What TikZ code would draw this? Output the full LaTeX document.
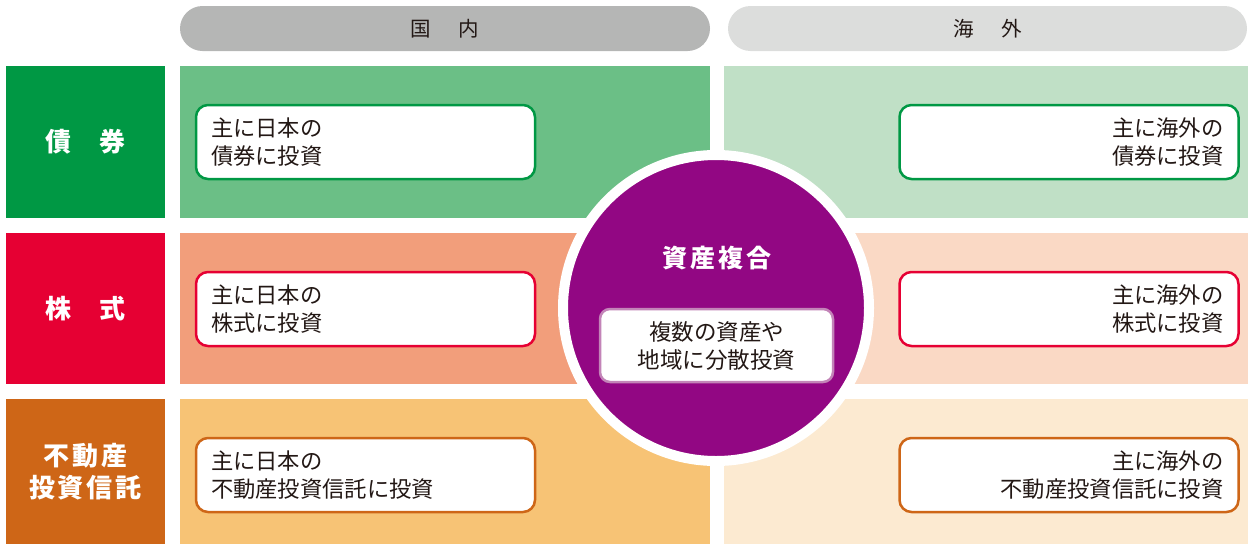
\documentclass[tikz,border=0pt]{standalone}
\usepackage{fontspec}
\newfontfamily\jp{Noto Sans CJK JP}
\definecolor{gA}{HTML}{009844}\definecolor{gB}{HTML}{6BBF86}\definecolor{gC}{HTML}{C0E0C6}
\definecolor{rA}{HTML}{E60033}\definecolor{rB}{HTML}{F29E7B}\definecolor{rC}{HTML}{FAD9C5}
\definecolor{oA}{HTML}{CE6617}\definecolor{oB}{HTML}{F7C375}\definecolor{oC}{HTML}{FCEAD1}
\definecolor{purp}{HTML}{920783}\definecolor{purpL}{HTML}{C384B8}
\definecolor{hA}{HTML}{B5B6B5}\definecolor{hB}{HTML}{DCDDDC}
\definecolor{txt}{HTML}{231815}
\newcommand{\ls}{\hspace{3pt}}
\tikzset{
  cell/.style={rectangle, inner sep=0pt, outer sep=0pt, minimum height=152pt},
  lab/.style={cell, minimum width=159pt, text=white, font=\jp\bfseries\fontsize{26}{32}\selectfont, align=center},
  hdr/.style={rectangle, rounded corners=22.5pt, minimum height=45pt, inner sep=0pt, text=txt, font=\jp\fontsize{20.5}{24}\selectfont},
  ibox/.style={rectangle, rounded corners=12pt, fill=white, line width=2.5pt, minimum width=339pt, minimum height=74pt, text width=309pt, inner sep=0pt, text=txt, font=\jp\fontsize{22.3}{28}\selectfont},
}
\begin{document}
\begin{tikzpicture}[x=1pt,y=-1pt]
\useasboundingbox (0,0) rectangle (1248,544);
% headers
\node[hdr, fill=hA, minimum width=530pt] (h1) at (445,28.5) {国\hspace{1.35em}内};
\node[hdr, fill=hB, minimum width=519pt] (h2) at (987.5,28.5) {海\hspace{1.35em}外};
% row labels
\node[lab, fill=gA] (l1) at (85.5,142) {債\hspace{1.05em}券};
\node[lab, fill=rA, minimum height=151pt] (l2) at (85.5,308.5) {株\hspace{1.05em}式};
\node[lab, fill=oA, minimum height=145pt] (l3) at (85.5,471.5) {\raisebox{-3pt}{\parbox{140pt}{\centering 不\ls 動\ls 産\\投\ls 資\ls 信\ls 託}}};
% cells
\node[cell, fill=gB, minimum width=530pt] (d1) at (445,142) {};
\node[cell, fill=gC, minimum width=524pt] (f1) at (986,142) {};
\node[cell, fill=rB, minimum width=530pt, minimum height=151pt] (d2) at (445,308.5) {};
\node[cell, fill=rC, minimum width=524pt, minimum height=151pt] (f2) at (986,308.5) {};
\node[cell, fill=oB, minimum width=530pt, minimum height=145pt] (d3) at (445,471.5) {};
\node[cell, fill=oC, minimum width=524pt, minimum height=145pt] (f3) at (986,471.5) {};
% circle
\node[circle, fill=purp, draw=white, line width=10pt, minimum size=306pt, inner sep=0pt] (c) at (716,308) {};
\node[text=white, font=\jp\bfseries\fontsize{25}{30}\selectfont, inner sep=0pt] (ct) at (717,258) {資\ls 産\ls 複\ls 合};
\node[rectangle, rounded corners=10pt, fill=white, draw=purpL, line width=2.5pt, minimum width=233pt, minimum height=73pt, inner sep=0pt, align=center, text=txt, font=\jp\fontsize{22.5}{28}\selectfont] (cb) at (716.5,345.5) {複数の資産や\\地域に分散投資};
% inner boxes
\node[ibox, draw=gA, align=left] (b1) at (365.5,142) {主に日本の\\債券に投資};
\node[ibox, draw=rA, align=left] (b2) at (365.5,309) {主に日本の\\株式に投資};
\node[ibox, draw=oA, align=left] (b3) at (365.5,475) {主に日本の\\不動産投資信託に投資};
\node[ibox, draw=gA, align=right] (b4) at (1069,142) {主に海外の\\債券に投資};
\node[ibox, draw=rA, align=right] (b5) at (1069,309) {主に海外の\\株式に投資};
\node[ibox, draw=oA, align=right] (b6) at (1069,475) {主に海外の\\不動産投資信託に投資};
\end{tikzpicture}
\end{document}
